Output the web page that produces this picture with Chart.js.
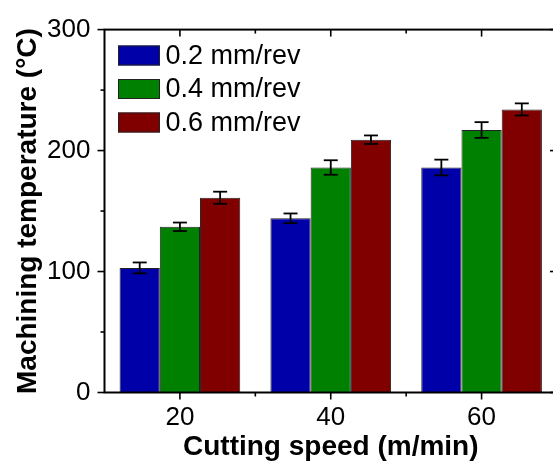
<!DOCTYPE html>
<html>
<head>
<meta charset="utf-8">
<script src="https://cdn.jsdelivr.net/npm/chart.js@4/dist/chart.umd.min.js"></script>
<style>
  html, body { margin: 0; padding: 0; background: #fff; overflow: hidden; }
  #wrap { width: 560px; height: 463px; position: relative; }
</style>
</head>
<body>
<div id="wrap"><canvas id="bar-chart"></canvas></div>
<script>
// Cutting speed categories (m/min)
var speeds = ['20', '40', '60'];
// Feed rates
var feedLabels = ['0.2 mm/rev', '0.4 mm/rev', '0.6 mm/rev'];
// Machining temperature (°C)
var feed02 = [103, 144, 186];
var feed04 = [137, 186, 217];
var feed06 = [161, 209, 234];
// error bars (+/-)
var err02 = [4.5, 4, 6.5];
var err04 = [3.5, 6, 6.5];
var err06 = [5, 3.5, 5];
// axis ticks
var yMajor = [0, 100, 200, 300];
var yMinor = [50, 150, 250];

var colors = ['#0000a8', '#008000', '#800000'];
var errs = [err02, err04, err06];

function line(ctx, x1, y1, x2, y2) {
  ctx.beginPath(); ctx.moveTo(x1, y1); ctx.lineTo(x2, y2); ctx.stroke();
}

// error bars from the bar elements + y scale
var errorBars = {
  id: 'errorBars',
  afterDatasetsDraw: function(chart) {
    var ctx = chart.ctx, y = chart.scales.y;
    ctx.save();
    ctx.strokeStyle = '#000';
    ctx.lineWidth = 1.8;
    chart.data.datasets.forEach(function(ds, i) {
      var meta = chart.getDatasetMeta(i);
      meta.data.forEach(function(bar, j) {
        var v = ds.data[j], e = errs[i][j];
        var top = y.getPixelForValue(v + e), bot = y.getPixelForValue(v - e);
        line(ctx, bar.x, top, bar.x, bot);
        line(ctx, bar.x - 7, top, bar.x + 7, top);
        line(ctx, bar.x - 7, bot, bar.x + 7, bot);
      });
    });
    ctx.restore();
  }
};

// box frame with ticks (in/out like the original plot)
var frame = {
  id: 'frame',
  afterDraw: function(chart) {
    var ctx = chart.ctx, a = chart.chartArea, x = chart.scales.x, y = chart.scales.y;
    ctx.save();
    ctx.strokeStyle = '#000';
    ctx.lineWidth = 2;
    ctx.strokeRect(a.left, a.top, a.right - a.left, a.bottom - a.top);
    ctx.lineWidth = 1.6;
    yMajor.forEach(function(v) {
      var p = y.getPixelForValue(v);
      line(ctx, a.left - 7, p, a.left, p);
      line(ctx, a.right - 7, p, a.right, p);
    });
    yMinor.forEach(function(v) {
      var p = y.getPixelForValue(v);
      line(ctx, a.left - 4, p, a.left, p);
      line(ctx, a.right - 4, p, a.right, p);
    });
    speeds.forEach(function(s, i) {
      var p = x.getPixelForValue(i);
      line(ctx, p, a.bottom, p, a.bottom + 7);
      line(ctx, p, a.top, p, a.top + 7);
      if (i > 0) {
        var b = (p + x.getPixelForValue(i - 1)) / 2;
        line(ctx, b, a.bottom, b, a.bottom + 4);
        line(ctx, b, a.top, b, a.top + 4);
      }
    });
    ctx.restore();

    // legend
    ctx.save();
    ctx.font = '27px "Liberation Sans", Arial, sans-serif';
    ctx.textBaseline = 'middle';
    chart.data.datasets.forEach(function(ds, i) {
      var bx = 118, by = 45.5 + i * 33.5;
      ctx.fillStyle = ds.backgroundColor;
      ctx.fillRect(bx, by, 42, 20);
      ctx.strokeStyle = '#222';
      ctx.lineWidth = 1;
      ctx.strokeRect(bx + 0.5, by + 0.5, 41, 19);
      ctx.fillStyle = '#000';
      ctx.fillText(ds.label, 165.5, by + 11);
    });
    ctx.restore();
  }
};

var ctx = document.getElementById('bar-chart');
var chart = new Chart(ctx, {
  type: 'bar',
  data: {
    labels: speeds,
    datasets: [
      { label: feedLabels[0], data: feed02, backgroundColor: colors[0] },
      { label: feedLabels[1], data: feed04, backgroundColor: colors[1] },
      { label: feedLabels[2], data: feed06, backgroundColor: colors[2] }
    ].map(function(d) {
      d.borderColor = '#222';
      d.borderWidth = 1;
      d.categoryPercentage = 0.8;
      d.barPercentage = 1.0;
      return d;
    })
  },
  options: {
    responsive: true,
    maintainAspectRatio: false,
    animation: false,
    layout: { padding: { top: 25, right: 3, left: 0, bottom: 0 } },
    plugins: {
      legend: { display: false },
      tooltip: { enabled: false }
    },
    scales: {
      x: {
        grid: { display: false, drawTicks: false },
        border: { display: false },
        ticks: {
          color: '#000',
          padding: 10,
          font: { family: '"Liberation Sans", Arial, sans-serif', size: 26 }
        },
        title: {
          display: true,
          text: 'Cutting speed (m/min)',
          color: '#000',
          padding: { top: 0, bottom: 0 },
          font: { family: '"Liberation Sans", Arial, sans-serif', size: 28, weight: 'bold', lineHeight: 1.1 }
        },
        afterFit: function(s) { s.height = 70.5; }
      },
      y: {
        min: 0,
        max: 300,
        grid: { display: false, drawTicks: false },
        border: { display: false },
        ticks: {
          stepSize: 100,
          color: '#000',
          padding: 14,
          font: { family: '"Liberation Sans", Arial, sans-serif', size: 26 }
        },
        title: {
          display: true,
          text: 'Machining temperature (°C)',
          color: '#000',
          padding: { top: 11, bottom: 0 },
          font: { family: '"Liberation Sans", Arial, sans-serif', size: 28, weight: 'bold', lineHeight: 1.2 }
        },
        afterFit: function(s) { s.width = 104.5; }
      }
    }
  },
  plugins: [errorBars, frame]
});
</script>
</body>
</html>
